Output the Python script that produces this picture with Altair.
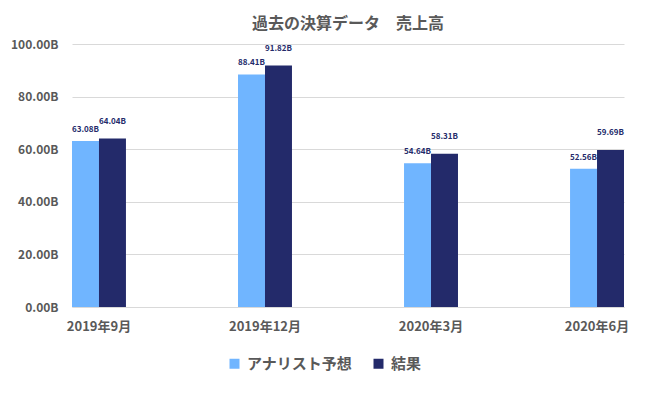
import altair as alt
import pandas as pd

periods = ["2019年9月", "2019年12月", "2020年3月", "2020年6月"]
series = ["アナリスト予想", "結果"]
forecast = [63.08, 88.41, 54.64, 52.56]
actual = [64.04, 91.82, 58.31, 59.69]
colors = ["#70B5FF", "#232A6A"]

rows = []
for i, p in enumerate(periods):
    rows.append({"period": p, "series": series[0], "value": forecast[i], "label": f"{forecast[i]:.2f}B"})
    rows.append({"period": p, "series": series[1], "value": actual[i], "label": f"{actual[i]:.2f}B"})
df = pd.DataFrame(rows)

FONT = "Noto Sans CJK JP"
GREY = "#595959"

x = alt.X("period:N", sort=periods, title=None,
          scale=alt.Scale(paddingInner=0.675, paddingOuter=0),
          axis=alt.Axis(labelAngle=0, labelFont=FONT, labelFontWeight="bold", labelFontSize=13,
                        labelColor=GREY, labelPadding=13, domainColor="#D9D9D9", ticks=False))
xo = alt.XOffset("series:N", sort=series, scale=alt.Scale(paddingInner=0, paddingOuter=0))
y = alt.Y("value:Q", title=None, scale=alt.Scale(domain=[0, 100]),
          axis=alt.Axis(values=[0, 20, 40, 60, 80, 100], labelExpr="format(datum.value, '.2f') + 'B'",
                        labelFont=FONT, labelFontWeight="bold", labelFontSize=12, labelColor=GREY,
                        labelPadding=14, domain=False, ticks=False, gridColor="#D9D9D9"))

bars = alt.Chart(df).mark_bar().encode(
    x=x, xOffset=xo, y=y,
    color=alt.Color("series:N", sort=series, scale=alt.Scale(domain=series, range=colors),
                    legend=alt.Legend(title=None, orient="none", direction="horizontal",
                                      legendX=155, legendY=312, symbolType="square", symbolSize=100,
                                      symbolStrokeWidth=0, labelFont=FONT, labelFontWeight="bold",
                                      labelFontSize=15, labelColor=GREY, columnPadding=18, labelOffset=5)),
)

lab1 = alt.Chart(df[df.series == series[0]]).mark_text(
    font=FONT, fontWeight="bold", fontSize=8, color="#232A6A", dy=-7, baseline="bottom"
).encode(x=x, xOffset=xo, y=y, text="label:N")
lab2 = alt.Chart(df[df.series == series[1]]).mark_text(
    font=FONT, fontWeight="bold", fontSize=8, color="#232A6A", dy=-13, baseline="bottom"
).encode(x=x, xOffset=xo, y=y, text="label:N")

chart = alt.layer(bars, lab1, lab2).properties(
    width=552, height=263,
    autosize=alt.AutoSizeParams(type="none"),
    padding={"left": 64, "top": 36, "right": 14, "bottom": 78},
    title=alt.TitleParams("過去の決算データ　売上高", font=FONT, fontSize=16, fontWeight="bold",
                          color=GREY, anchor="middle", offset=6),
).configure_view(stroke=None)

chart.save("out.html", embed_options={"renderer": "svg", "actions": False})
